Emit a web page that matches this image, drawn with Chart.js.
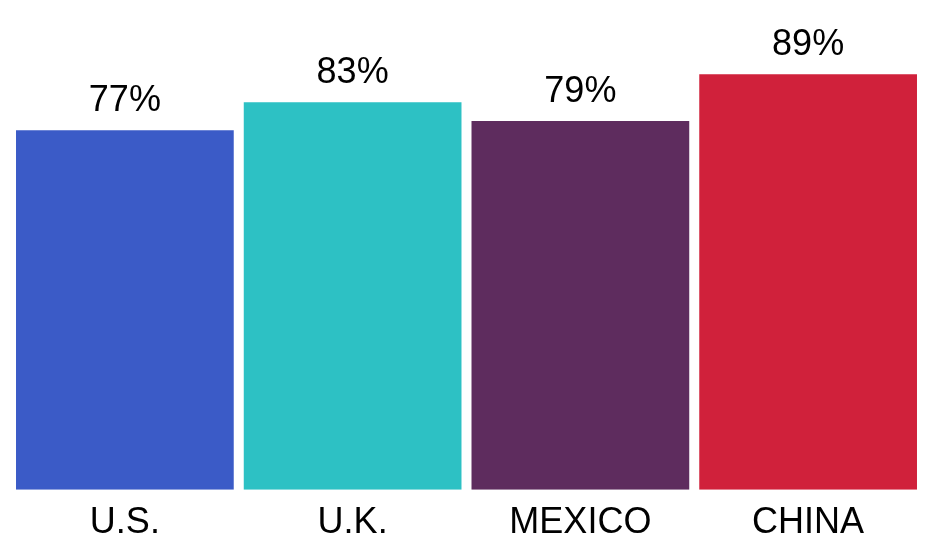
<!DOCTYPE html>
<html>
<head>
<meta charset="utf-8">
<script src="https://cdn.jsdelivr.net/npm/chart.js@4"></script>
<style>
  body { margin: 0; background: #fff; }
  canvas { display: block; }
</style>
</head>
<body>
<canvas id="chart" width="925" height="553"></canvas>
<script>
// Chart data
const countries = ['U.S.', 'U.K.', 'MEXICO', 'CHINA'];
const shares = [77, 83, 79, 89];
const barColors = ['#3b5bc7', '#2dc1c4', '#5e2c5e', '#d0213b'];

const fontFamily = 'Arial, "Liberation Sans", sans-serif';

// Draws the percentage above each bar
const valueLabels = {
  id: 'valueLabels',
  afterDatasetsDraw(chart) {
    const ctx = chart.ctx;
    const meta = chart.getDatasetMeta(0);
    ctx.save();
    ctx.font = '36px ' + fontFamily;
    ctx.fillStyle = '#000';
    ctx.textAlign = 'center';
    ctx.textBaseline = 'alphabetic';
    meta.data.forEach((bar, i) => {
      ctx.fillText(shares[i] + '%', bar.x, bar.y - 19);
    });
    ctx.restore();
  }
};

new Chart(document.getElementById('chart'), {
  type: 'bar',
  data: {
    labels: countries,
    datasets: [{
      data: shares,
      backgroundColor: barColors,
      borderWidth: 0,
      categoryPercentage: 1,
      barPercentage: 0.956
    }]
  },
  options: {
    responsive: false,
    animation: false,
    layout: { padding: { left: 11, right: 3, top: 23, bottom: -4 } },
    plugins: {
      legend: { display: false },
      tooltip: { enabled: false }
    },
    scales: {
      x: {
        grid: { display: false, drawTicks: false },
        border: { display: false },
        ticks: {
          color: '#000',
          padding: 12,
          font: { family: fontFamily, size: 36 }
        }
      },
      y: {
        display: false,
        min: 0,
        max: 100
      }
    }
  },
  plugins: [valueLabels]
});
</script>
</body>
</html>
